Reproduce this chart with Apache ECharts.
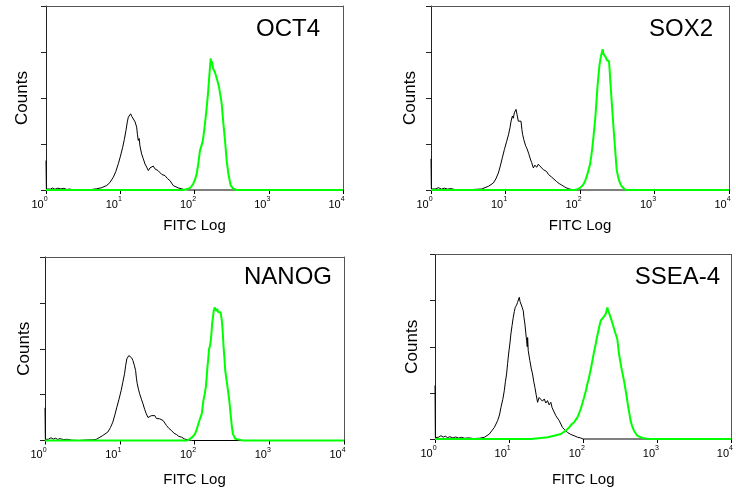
<!DOCTYPE html>
<html><head><meta charset="utf-8">
<script src="https://cdn.jsdelivr.net/npm/echarts@6/dist/echarts.min.js"></script>
<style>html,body{margin:0;padding:0;background:#fff}#c{width:736px;height:492px}</style>
</head><body><div id="c"></div>
<script>
// x values are log10(FITC) positions (decades), y values are counts (arbitrary units, axis 0-200)
const panelNames = ['OCT4', 'SOX2', 'NANOG', 'SSEA-4'];
const exponentLabels = ['0', '1', '2', '3', '4'];
const yTickValues = [0, 50, 100, 150, 200];

const oct4Control = [[0,32],[0.005,1],[0.03,2.5],[0.06,1],[0.09,2.2],[0.12,0.8],[0.16,2],[0.2,1.2],[0.24,1.8],[0.28,0.6],[0.32,1],[0.38,0],[0.55,0.4],[0.62,0.6],[0.683,1.3],[0.75,2.5],[0.817,4.9],[0.86,8],[0.907,14],[0.94,20],[0.974,28.5],[1.0,36],[1.033,46.5],[1.055,55],[1.077,64.7],[1.095,74],[1.109,79.2],[1.125,78],[1.14,82.8],[1.155,80],[1.176,79.2],[1.2,74],[1.221,68.3],[1.232,60],[1.243,53.8],[1.255,56],[1.265,48],[1.288,39.2],[1.31,34],[1.333,28.3],[1.355,25],[1.378,21.1],[1.4,24],[1.423,22.9],[1.445,26],[1.467,23],[1.49,24.7],[1.51,21],[1.535,20],[1.558,17],[1.58,16.5],[1.603,15.6],[1.635,12.5],[1.67,10.2],[1.715,4.7],[1.75,3.5],[1.782,2.2],[1.82,1.5],[1.849,0.7],[1.917,0],[4,0]];
const oct4Stained = [[0,0],[1.85,0],[1.917,1.3],[1.95,3],[1.984,6.8],[2.01,12],[2.029,17.7],[2.05,28],[2.074,43],[2.085,44.5],[2.097,44.8],[2.108,52],[2.119,57.5],[2.135,68],[2.151,79.4],[2.162,88],[2.173,97.5],[2.185,108],[2.195,119.3],[2.207,132],[2.218,143],[2.226,136],[2.232,140],[2.24,137.5],[2.25,132],[2.263,130.2],[2.275,128],[2.285,126.6],[2.307,119.3],[2.33,112],[2.35,102],[2.366,93.9],[2.389,72.1],[2.411,54],[2.433,32.2],[2.456,17.7],[2.487,5],[2.523,1.3],[2.568,0],[4,0]];

const sox2Control = [[0,34],[0.005,1],[0.03,2.5],[0.06,1.2],[0.1,2.5],[0.14,1],[0.18,2],[0.22,1],[0.27,1.5],[0.32,0.5],[0.4,0],[0.55,0.5],[0.62,0.8],[0.68,1.1],[0.77,4],[0.837,7.6],[0.87,12],[0.904,18.5],[0.93,26],[0.957,34.9],[0.985,44],[1.016,53],[1.04,60],[1.06,67.6],[1.075,75],[1.092,80.3],[1.105,78],[1.119,83.9],[1.13,82],[1.141,87.6],[1.155,82],[1.172,74.8],[1.19,76],[1.208,74.8],[1.22,66],[1.23,60.3],[1.245,55],[1.253,53],[1.27,48],[1.284,45.8],[1.31,40],[1.329,34.9],[1.35,30],[1.374,24],[1.395,27],[1.418,24.7],[1.44,28],[1.463,25.8],[1.485,24],[1.508,22.2],[1.53,24],[1.553,20],[1.575,17],[1.597,15],[1.62,14],[1.642,13.1],[1.687,9.1],[1.72,7],[1.754,5.4],[1.79,3.5],[1.821,2.2],[1.86,1],[1.91,0.4],[1.95,0],[4,0]];
const sox2Stained = [[0,0],[1.93,0],[1.978,1.1],[2.01,3],[2.044,5.8],[2.07,10],[2.098,16.7],[2.115,22],[2.134,27.6],[2.15,36],[2.165,45.8],[2.18,57],[2.192,67.6],[2.205,78],[2.215,89.4],[2.226,102],[2.237,114.8],[2.25,126],[2.26,134.8],[2.27,140],[2.282,145.7],[2.295,150],[2.305,153],[2.315,148],[2.326,149.3],[2.338,146],[2.349,143.9],[2.36,141],[2.372,142],[2.38,141],[2.389,140.2],[2.398,130],[2.407,118.4],[2.425,96.6],[2.447,71.2],[2.47,45.8],[2.492,22.2],[2.515,13.1],[2.535,8],[2.559,4],[2.604,0.4],[2.65,0],[4,0]];

const nanogControl = [[0,35.6],[0.005,1],[0.025,2.5],[0.05,1.5],[0.08,3],[0.11,1.5],[0.14,2.5],[0.17,1.2],[0.2,2],[0.25,1],[0.3,1.3],[0.36,0.3],[0.45,0],[0.55,0.5],[0.64,0.8],[0.683,1.1],[0.772,5.4],[0.839,9.1],[0.875,14],[0.907,20],[0.935,28],[0.961,36.3],[0.99,45],[1.019,54.5],[1.04,63],[1.064,72.7],[1.08,82],[1.095,89],[1.11,88],[1.122,92.6],[1.135,91],[1.145,94.5],[1.16,90],[1.176,87.2],[1.195,82],[1.212,76.3],[1.223,68],[1.234,61.8],[1.25,56],[1.266,50.9],[1.29,45],[1.311,40],[1.333,34],[1.355,29.1],[1.378,25],[1.4,23.6],[1.42,27],[1.445,25],[1.468,27.2],[1.49,24],[1.512,26],[1.535,23.6],[1.58,21.8],[1.625,16.3],[1.66,13],[1.692,10.9],[1.725,8],[1.759,6.5],[1.79,4.5],[1.827,3.6],[1.87,1.5],[1.917,0.7],[1.96,0],[4,0]];
const nanogStained = [[0,0],[1.9,0],[1.939,1.8],[1.975,4],[2.007,7.3],[2.03,12],[2.052,18.2],[2.075,24],[2.097,29.1],[2.108,36],[2.119,43.6],[2.135,50],[2.151,58.1],[2.162,68],[2.173,79.9],[2.185,90],[2.195,99.9],[2.207,103],[2.218,109],[2.228,118],[2.236,127.2],[2.248,135],[2.258,141.7],[2.27,145],[2.281,147.1],[2.292,141],[2.303,143.5],[2.315,140],[2.326,141.7],[2.337,140],[2.348,139.9],[2.36,134],[2.37,127.2],[2.38,115],[2.389,101.7],[2.4,90],[2.411,76.3],[2.425,68],[2.442,58.1],[2.465,43.6],[2.487,25.4],[2.5,15],[2.514,7.3],[2.545,1.8],[2.613,0.7],[2.65,0],[4,0]];

const ssea4Control = [[0,58],[0.005,1.5],[0.02,3.5],[0.05,2],[0.08,3.6],[0.11,2],[0.14,3],[0.17,1.5],[0.2,2.5],[0.24,1.2],[0.28,2.2],[0.32,1],[0.36,1.8],[0.4,0.8],[0.46,1.2],[0.52,0.5],[0.6,0.8],[0.666,1.8],[0.733,5.4],[0.801,12.6],[0.845,19.9],[0.87,26],[0.89,34.3],[0.915,43],[0.935,52.4],[0.95,62],[0.966,70.5],[0.98,82],[0.993,92.1],[1.01,103],[1.024,113.8],[1.04,123],[1.056,131.9],[1.07,138],[1.083,142.7],[1.1,145],[1.114,148.1],[1.125,146],[1.137,153.6],[1.148,149],[1.159,148.1],[1.175,143],[1.191,139.1],[1.2,132],[1.213,124.7],[1.225,115],[1.236,106.6],[1.245,100],[1.25,110],[1.258,95.8],[1.28,84.9],[1.3,76],[1.316,70.5],[1.333,62],[1.348,56],[1.365,48],[1.384,39.8],[1.405,45],[1.428,45.2],[1.45,41],[1.474,43.4],[1.495,39],[1.518,41.6],[1.54,37],[1.563,39.8],[1.58,34],[1.599,32.5],[1.63,25.3],[1.676,19.9],[1.72,12.6],[1.75,10],[1.787,7.2],[1.83,5],[1.877,3.6],[1.92,2],[1.966,1.1],[2.0,0],[4,0]];
const ssea4Stained = [[0,0],[1.3,0],[1.428,1.1],[1.518,1.8],[1.608,3.6],[1.697,5.4],[1.765,9],[1.81,12.6],[1.845,16],[1.877,18.1],[1.9,21],[1.922,23.5],[1.945,28],[1.966,32.5],[1.99,39],[2.012,45.2],[2.035,52],[2.056,59.6],[2.07,64],[2.088,70.5],[2.105,77],[2.124,84.9],[2.145,94],[2.168,103],[2.185,110],[2.205,117.4],[2.22,123],[2.236,128.3],[2.255,130],[2.272,131.9],[2.29,134],[2.303,135.5],[2.315,139],[2.326,142.7],[2.337,139],[2.349,137.3],[2.36,134],[2.37,131.9],[2.385,128],[2.397,124.7],[2.41,121],[2.424,117.4],[2.445,112],[2.46,108.4],[2.483,92.1],[2.514,77.7],[2.55,63.2],[2.581,48.8],[2.608,34.3],[2.639,19.9],[2.66,14],[2.685,9],[2.729,3.6],[2.797,1.1],[2.864,0.4],[2.9,0],[4,0]];

const controlSeries = [oct4Control, sox2Control, nanogControl, ssea4Control];
const stainedSeries = [oct4Stained, sox2Stained, nanogStained, ssea4Stained];

// layout (kept separate from data)
const layout = [
  {grid:{left:46, top:6, width:297, height:184}, titleRight:416, titleTop:17, countsGap:15, fitcGap:28},
  {grid:{left:431, top:6, width:298, height:184}, titleRight:23, titleTop:17, countsGap:12.5, fitcGap:28},
  {grid:{left:45, top:257, width:299, height:183.5}, titleRight:404, titleTop:265.5, countsGap:12.5, fitcGap:32},
  {grid:{left:435, top:254.5, width:297, height:184.5}, titleRight:16, titleTop:265.5, countsGap:14, fitcGap:33}
];

const FONT = '"Liberation Sans", Arial, Helvetica, sans-serif';
const GREEN = '#00ff00';
const FRAME = '#555';

const chart = echarts.init(document.getElementById('c'), null, {renderer:'canvas'});

const xAxes = [], yAxes = [];
layout.forEach((l, i) => {
  // bottom axis (log decades, labelled 10^n); the stained series baseline draws the axis line
  xAxes.push({
    gridIndex: i, type: 'value', position: 'bottom', min: 0, max: 4, interval: 1, z: 0,
    axisLine: {show: false, onZero: false},
    axisTick: {show: true, length: 4, lineStyle: {color: '#000'}},
    splitLine: {show: false},
    axisLabel: {
      margin: 6, padding: [0, 13, 0, 0],
      formatter: v => '{b|10}{s|' + exponentLabels[Math.round(v)] + '}',
      rich: {
        b: {fontSize: 11, fontFamily: FONT, color: '#000', lineHeight: 14, verticalAlign: 'bottom'},
        s: {fontSize: 7, fontFamily: FONT, color: '#000', lineHeight: 14, verticalAlign: 'top'}
      }
    },
    name: 'FITC Log', nameLocation: 'middle', nameGap: l.fitcGap,
    nameTextStyle: {fontSize: 15, fontFamily: FONT, color: '#000'}
  });
  // top frame line
  xAxes.push({
    gridIndex: i, type: 'value', position: 'top', min: 0, max: 4, z: 0,
    axisLine: {show: true, onZero: false, lineStyle: {color: FRAME, width: 1}},
    axisTick: {show: false}, axisLabel: {show: false}, splitLine: {show: false}
  });
  // left counts axis
  yAxes.push({
    gridIndex: i, type: 'value', position: 'left', min: yTickValues[0], max: yTickValues[yTickValues.length - 1], interval: yTickValues[1] - yTickValues[0], z: 0,
    axisLine: {show: true, onZero: false, lineStyle: {color: '#222', width: 1}},
    axisTick: {show: true, length: 5, lineStyle: {color: '#222'}},
    axisLabel: {show: false},
    splitLine: {show: false},
    name: 'Counts', nameLocation: 'middle', nameRotate: 90, nameGap: l.countsGap,
    nameTextStyle: {fontSize: 17, fontFamily: FONT, color: '#000'}
  });
  // right frame line
  yAxes.push({
    gridIndex: i, type: 'value', position: 'right', min: 0, max: 200, z: 0,
    axisLine: {show: true, onZero: false, lineStyle: {color: FRAME, width: 1}},
    axisTick: {show: false}, axisLabel: {show: false}, splitLine: {show: false}
  });
});

const option = {
  animation: false,
  backgroundColor: '#ffffff',
  title: panelNames.map((n, i) => ({
    text: n, right: layout[i].titleRight, top: layout[i].titleTop, padding: 0,
    textStyle: {fontSize: 24, fontWeight: 'normal', color: '#000', fontFamily: FONT}
  })),
  grid: layout.map(l => Object.assign({show: false}, l.grid)),
  xAxis: xAxes,
  yAxis: yAxes,
  series: []
};

panelNames.forEach((n, i) => {
  option.series.push({
    name: n + ' control', type: 'line', xAxisIndex: 2 * i, yAxisIndex: 2 * i,
    data: controlSeries[i], showSymbol: false, symbol: 'none', clip: false, z: 10,
    lineStyle: {color: '#000', width: 1}
  });
  option.series.push({
    name: n, type: 'line', xAxisIndex: 2 * i, yAxisIndex: 2 * i,
    data: stainedSeries[i], showSymbol: false, symbol: 'none', clip: false, z: 11,
    lineStyle: {color: GREEN, width: 2}
  });
});

chart.setOption(option);
</script>
</body></html>
